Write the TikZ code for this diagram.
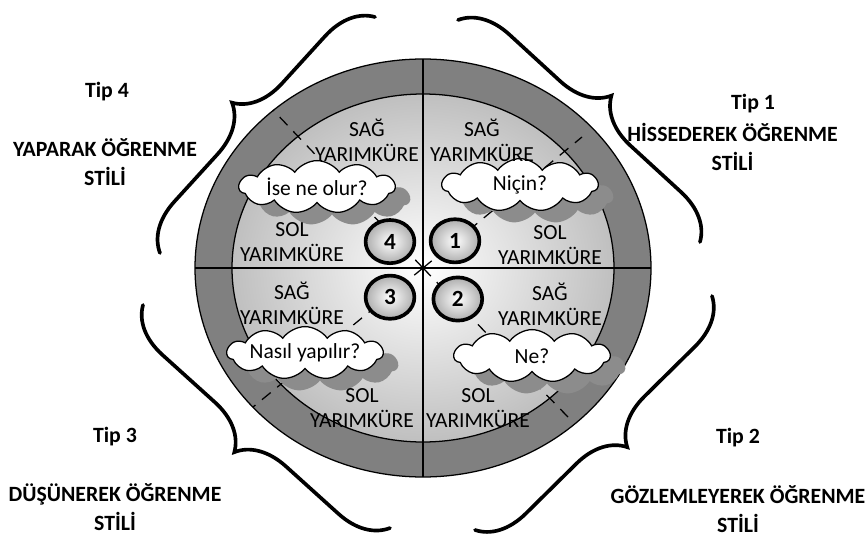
\documentclass[tikz,border=0pt]{standalone}
\usepackage{fontspec}
\setmainfont{Carlito}
\usetikzlibrary{shapes.geometric,shapes.symbols,shadows,decorations.pathreplacing}

\begin{document}
\begin{tikzpicture}[
  yarim/.style={align=center, font=\fontsize{15.3}{17.8}\selectfont},
  tipyazi/.style={align=center, font=\fontsize{15.5}{20.6}\selectfont\bfseries},
  bulut/.style={cloud, cloud puffs=11, cloud puff arc=110, cloud ignores aspect, draw, line width=0.9pt, fill=white,
    minimum width=3.9cm, minimum height=1.32cm, inner sep=0pt, font=\fontsize{15.3}{17}\selectfont,
    drop shadow={shadow xshift=0.375cm, shadow yshift=-0.3cm, fill=black!45, opacity=1}},
  numara/.style={ellipse, draw, line width=2.6pt, minimum width=1.22cm, minimum height=1.08cm, inner sep=0pt,
    inner color=white, outer color=black!32, font=\fontsize{16.5}{17}\selectfont\bfseries},
  parantez/.style={decorate, decoration={brace, amplitude=1.2cm}, line width=2.6pt, line cap=round}
]
\useasboundingbox (-10.575,-6.775) rectangle (11.075,6.7);
\coordinate (O) at (0,0);
% halkalar
\draw[fill=black!50, line width=0.9pt] (O) ellipse [x radius=5.7, y radius=5.225];
\draw[inner color=white, outer color=black!25, line width=0.9pt] (O) ellipse [x radius=4.775, y radius=4.35];
% kesikli kosegenler
\coordinate (kb) at (-3.75,3.95);
\coordinate (kd) at (3.975,3.275);
\coordinate (gb) at (-4.25,-3.475);
\coordinate (gd) at (3.625,-3.725);
\draw[line width=0.9pt, dash pattern=on 8pt off 6pt] (O) -- (kb) (O) -- (kd) (O) -- (gb) (O) -- (gd);
% eksenler
\coordinate (W) at (-5.7,0);
\coordinate (E) at (5.7,0);
\coordinate (N) at (0,5.225);
\coordinate (S) at (0,-5.225);
\draw[line width=0.9pt] (W) -- (E) (N) -- (S);
% bulutlar
\node[bulut] (b4) at (-2.65,2.025) {İse ne olur?};
\node[bulut] (b1) at (2.425,2.075) {Niçin?};
\node[bulut] (b3) at (-2.95,-2.125) {Nasıl yapılır?};
\node[bulut] (b2) at (2.725,-2.2) {Ne?};
% yarimkure yazilari
\node[yarim] (sag4) at (-1.4,3.2) {SAĞ\\YARIMKÜRE};
\node[yarim] (sag1) at (1.475,3.2) {SAĞ\\YARIMKÜRE};
\node[yarim] (sol4) at (-3.275,0.65) {SOL\\YARIMKÜRE};
\node[yarim] (sol1) at (3.175,0.575) {SOL\\YARIMKÜRE};
\node[yarim] (sag3) at (-3.275,-0.875) {SAĞ\\YARIMKÜRE};
\node[yarim] (sag2) at (3.175,-0.9) {SAĞ\\YARIMKÜRE};
\node[yarim] (sol3) at (-1.525,-3.5) {SOL\\YARIMKÜRE};
\node[yarim] (sol2) at (1.375,-3.5) {SOL\\YARIMKÜRE};
% numaralar
\node[numara] (n4) at (-0.825,0.66) {4};
\node[numara] (n1) at (0.8,0.68) {1};
\node[numara] (n3) at (-0.825,-0.73) {3};
\node[numara] (n2) at (0.87,-0.775) {2};
% parantezler
\coordinate (p4a) at (-6.575,0.375);
\coordinate (p4b) at (-1.2,6.275);
\coordinate (p1a) at (0.875,6.2);
\coordinate (p1b) at (6.925,0.65);
\coordinate (p2a) at (7.225,-0.7);
\coordinate (p2b) at (1.3,-6.55);
\coordinate (p3a) at (-0.825,-6.5);
\coordinate (p3b) at (-7.0,-0.925);
\draw[parantez] (p4a) -- (p4b);
\draw[parantez] (p1a) -- (p1b);
\draw[parantez] (p2a) -- (p2b);
\draw[parantez] (p3a) -- (p3b);
% tipler
\node[tipyazi] (tip4) at (-7.9,4.4) {Tip 4};
\node[tipyazi] (stil4) at (-7.95,2.64) {YAPARAK ÖĞRENME\\STİLİ};
\node[tipyazi] (tip1) at (8.25,4.1) {Tip 1};
\node[tipyazi] (stil1) at (7.74,3.03) {HİSSEDEREK ÖĞRENME\\STİLİ};
\node[tipyazi] (tip3) at (-7.7,-4.225) {Tip 3};
\node[tipyazi] (stil3) at (-7.7,-5.99) {DÜŞÜNEREK ÖĞRENME\\STİLİ};
\node[tipyazi] (tip2) at (7.875,-4.25) {Tip 2};
\node[tipyazi] (stil2) at (7.875,-6.025) {GÖZLEMLEYEREK ÖĞRENME\\STİLİ};
\end{tikzpicture}
\end{document}
